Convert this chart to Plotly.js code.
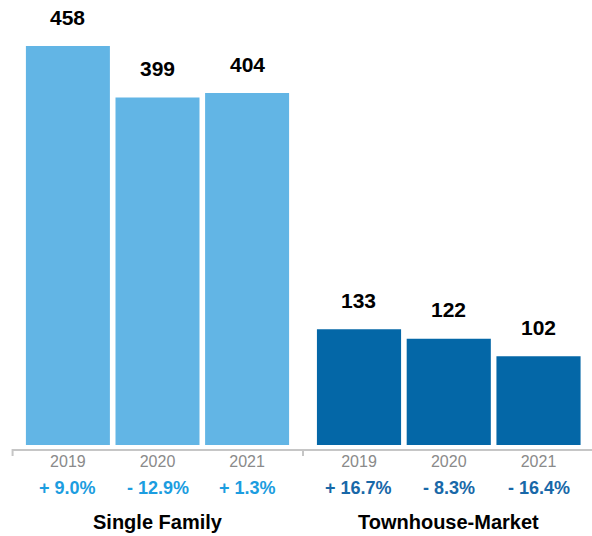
<!DOCTYPE html>
<html>
<head>
<meta charset="utf-8">
<script src="https://cdn.plot.ly/plotly-3.0.1.min.js"></script>
<style>
  html, body { margin: 0; padding: 0; background: #ffffff; }
  #chart { width: 592px; height: 536px; }
</style>
</head>
<body>
<div id="chart"></div>
<script>
// Sales counts per year for the two property groups
const years = ['2019', '2020', '2021'];
const singleFamily = [458, 399, 404];
const townhouse = [133, 122, 102];
const singleFamilyChange = ['+ 9.0%', '- 12.9%', '+ 1.3%'];
const townhouseChange = ['+ 16.7%', '- 8.3%', '- 16.4%'];
const groupNames = ['Single Family', 'Townhouse-Market'];

const FONT = '"Liberation Sans", Arial, Helvetica, sans-serif';
const LIGHT = '#62b5e5';
const DARK = '#0467a7';
const LIGHT_TEXT = '#1c9de0';
const DARK_TEXT = '#1868a8';
const AXIS_GREY = '#c6c6c6';

const W = 592, H = 536;
const margin = { l: 12, r: 0, t: 0, b: 87 };
const plotW = W - margin.l - margin.r;
const plotH = H - margin.t - margin.b;
const split = 291 / plotW;

const traces = [
  { type: 'bar', x: years, y: singleFamily, xaxis: 'x', yaxis: 'y',
    marker: { color: LIGHT }, hoverinfo: 'skip' },
  { type: 'bar', x: years, y: townhouse, xaxis: 'x2', yaxis: 'y',
    marker: { color: DARK }, hoverinfo: 'skip' }
];

// Value labels above the bars, yearly change below the axis, group name at the bottom
const annotations = [];
function addGroup(axis, values, changes, changeColor, name) {
  years.forEach((yr, i) => {
    annotations.push({
      xref: axis, yref: 'y', x: i, y: values[i], text: '<b>' + values[i] + '</b>',
      showarrow: false, yanchor: 'middle', yshift: 29,
      font: { family: FONT, size: 21, color: '#000000' }
    });
    annotations.push({
      xref: axis, yref: 'paper', x: i, y: 0, text: '<b>' + changes[i] + '</b>',
      showarrow: false, yanchor: 'middle', yshift: -39,
      font: { family: FONT, size: 18, color: changeColor }
    });
  });
  annotations.push({
    xref: axis, yref: 'paper', x: 1, y: 0, text: '<b>' + name + '</b>',
    showarrow: false, yanchor: 'middle', yshift: -73,
    font: { family: FONT, size: 20, color: '#000000' }
  });
}
addGroup('x', singleFamily, singleFamilyChange, LIGHT_TEXT, groupNames[0]);
addGroup('x2', townhouse, townhouseChange, DARK_TEXT, groupNames[1]);

const tickLen = 7 / plotH;
const xaxisBase = {
  type: 'category', showgrid: false, zeroline: false,
  showline: true, linecolor: AXIS_GREY, linewidth: 2,
  ticks: '', fixedrange: true, ticklabelstandoff: -3,
  tickfont: { family: FONT, size: 16, color: '#8a8a8a' },
  anchor: 'y'
};

const layout = {
  width: W, height: H, margin: margin,
  paper_bgcolor: '#ffffff', plot_bgcolor: '#ffffff',
  showlegend: false, bargap: 0.0625,
  font: { family: FONT },
  xaxis: Object.assign({}, xaxisBase, { domain: [0, split], range: [-0.624, 2.624] }),
  xaxis2: Object.assign({}, xaxisBase, { domain: [split, 1], range: [-0.624, 2.596] }),
  yaxis: { range: [-4.59, 510.8], visible: false, fixedrange: true },
  annotations: annotations,
  shapes: [
    { type: 'line', xref: 'paper', yref: 'paper', x0: 0.001, x1: 0.001, y0: 0, y1: -tickLen,
      line: { color: AXIS_GREY, width: 2 } },
    { type: 'line', xref: 'paper', yref: 'paper', x0: split, x1: split, y0: 0, y1: -tickLen,
      line: { color: AXIS_GREY, width: 2 } }
  ]
};

Plotly.newPlot('chart', traces, layout, { displayModeBar: false, staticPlot: true });
</script>
</body>
</html>
